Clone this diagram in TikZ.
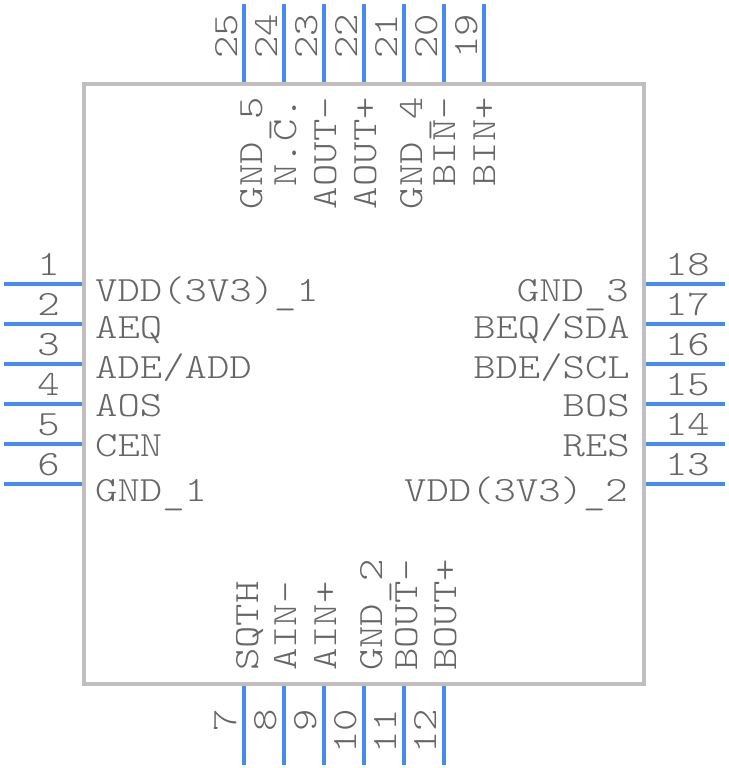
\documentclass[tikz,border=0pt]{standalone}
\usepackage{fontspec}
\newfontfamily\pinfont[FakeStretch=1.2]{Latin Modern Mono Light}
\newcommand{\pinbar}{\raisebox{-3.5pt}{\_}}
\definecolor{pinblue}{HTML}{468CF0}
\definecolor{bodygray}{HTML}{BFBFBF}
\definecolor{textgray}{HTML}{666666}
\tikzset{
    pin/.style={line width=4pt, color=pinblue},
    pintext/.style={inner sep=0pt, text=textgray, font=\pinfont\fontsize{35.5pt}{36pt}\selectfont},
    lefttext/.style={pintext, anchor=base west},
    righttext/.style={pintext, anchor=base east},
    uptext/.style={pintext, rotate=90, anchor=base west},
    downtext/.style={pintext, rotate=90, anchor=base east},
}
\begin{document}
\begin{tikzpicture}
                \useasboundingbox (0pt, 0pt) rectangle (728pt, -768pt);
                \node (body) [rectangle, minimum width=560pt, minimum height=600pt, inner sep=0pt, line width=4pt, draw=bodygray] at (364pt, -384pt) {};
                % left side
                \coordinate (a1) at (4pt, -284pt); \coordinate (b1) at (82pt, -284pt);
                \coordinate (a2) at (4pt, -324pt); \coordinate (b2) at (82pt, -324pt);
                \coordinate (a3) at (4pt, -364pt); \coordinate (b3) at (82pt, -364pt);
                \coordinate (a4) at (4pt, -404pt); \coordinate (b4) at (82pt, -404pt);
                \coordinate (a5) at (4pt, -444pt); \coordinate (b5) at (82pt, -444pt);
                \coordinate (a6) at (4pt, -484pt); \coordinate (b6) at (82pt, -484pt);
                \draw [pin] (a1) to (b1);
                \draw [pin] (a2) to (b2);
                \draw [pin] (a3) to (b3);
                \draw [pin] (a4) to (b4);
                \draw [pin] (a5) to (b5);
                \draw [pin] (a6) to (b6);
                \node (n1) [righttext] at (60pt, -275pt) {1};
                \node (n2) [righttext] at (60pt, -315pt) {2};
                \node (n3) [righttext] at (60pt, -355pt) {3};
                \node (n4) [righttext] at (60pt, -395pt) {4};
                \node (n5) [righttext] at (60pt, -435pt) {5};
                \node (n6) [righttext] at (60pt, -475pt) {6};
                \node (l1) [lefttext] at (95pt, -301pt) {VDD(3V3)\pinbar 1};
                \node (l2) [lefttext] at (95pt, -338pt) {AEQ};
                \node (l3) [lefttext] at (95pt, -378pt) {ADE/ADD};
                \node (l4) [lefttext] at (95pt, -416pt) {AOS};
                \node (l5) [lefttext] at (95pt, -456pt) {CEN};
                \node (l6) [lefttext] at (95pt, -501pt) {GND\pinbar 1};
                % bottom side
                \coordinate (a7) at (244pt, -686pt); \coordinate (b7) at (244pt, -765pt);
                \coordinate (a8) at (284pt, -686pt); \coordinate (b8) at (284pt, -765pt);
                \coordinate (a9) at (324pt, -686pt); \coordinate (b9) at (324pt, -765pt);
                \coordinate (a10) at (364pt, -686pt); \coordinate (b10) at (364pt, -765pt);
                \coordinate (a11) at (404pt, -686pt); \coordinate (b11) at (404pt, -765pt);
                \coordinate (a12) at (444pt, -686pt); \coordinate (b12) at (444pt, -765pt);
                \draw [pin] (a7) to (b7);
                \draw [pin] (a8) to (b8);
                \draw [pin] (a9) to (b9);
                \draw [pin] (a10) to (b10);
                \draw [pin] (a11) to (b11);
                \draw [pin] (a12) to (b12);
                \node (n7) [downtext] at (236pt, -709pt) {7};
                \node (n8) [downtext] at (276pt, -709pt) {8};
                \node (n9) [downtext] at (316pt, -709pt) {9};
                \node (n10) [downtext] at (356pt, -709pt) {10};
                \node (n11) [downtext] at (396pt, -709pt) {11};
                \node (n12) [downtext] at (436pt, -709pt) {12};
                \node (l7) [uptext] at (258pt, -671pt) {SQTH};
                \node (l8) [uptext] at (296pt, -671pt) {AIN-};
                \node (l9) [uptext] at (336pt, -671pt) {AIN+};
                \node (l10) [uptext] at (382pt, -671pt) {GND\pinbar 2};
                \node (l11) [uptext] at (417pt, -671pt) {BOUT-};
                \node (l12) [uptext] at (456pt, -671pt) {BOUT+};
                % right side
                \coordinate (a13) at (646pt, -484pt); \coordinate (b13) at (725pt, -484pt);
                \coordinate (a14) at (646pt, -444pt); \coordinate (b14) at (725pt, -444pt);
                \coordinate (a15) at (646pt, -404pt); \coordinate (b15) at (725pt, -404pt);
                \coordinate (a16) at (646pt, -364pt); \coordinate (b16) at (725pt, -364pt);
                \coordinate (a17) at (646pt, -324pt); \coordinate (b17) at (725pt, -324pt);
                \coordinate (a18) at (646pt, -284pt); \coordinate (b18) at (725pt, -284pt);
                \draw [pin] (a13) to (b13);
                \draw [pin] (a14) to (b14);
                \draw [pin] (a15) to (b15);
                \draw [pin] (a16) to (b16);
                \draw [pin] (a17) to (b17);
                \draw [pin] (a18) to (b18);
                \node (n13) [righttext] at (710pt, -475pt) {13};
                \node (n14) [righttext] at (710pt, -435pt) {14};
                \node (n15) [righttext] at (710pt, -395pt) {15};
                \node (n16) [righttext] at (710pt, -355pt) {16};
                \node (n17) [righttext] at (710pt, -315pt) {17};
                \node (n18) [righttext] at (710pt, -275pt) {18};
                \node (l13) [righttext] at (628pt, -501pt) {VDD(3V3)\pinbar 2};
                \node (l14) [righttext] at (630pt, -456pt) {RES};
                \node (l15) [righttext] at (630pt, -416pt) {BOS};
                \node (l16) [righttext] at (630pt, -378pt) {BDE/SCL};
                \node (l17) [righttext] at (630pt, -338pt) {BEQ/SDA};
                \node (l18) [righttext] at (629pt, -301pt) {GND\pinbar 3};
                % top side
                \coordinate (a19) at (484pt, -82pt); \coordinate (b19) at (484pt, -4pt);
                \coordinate (a20) at (444pt, -82pt); \coordinate (b20) at (444pt, -4pt);
                \coordinate (a21) at (404pt, -82pt); \coordinate (b21) at (404pt, -4pt);
                \coordinate (a22) at (364pt, -82pt); \coordinate (b22) at (364pt, -4pt);
                \coordinate (a23) at (324pt, -82pt); \coordinate (b23) at (324pt, -4pt);
                \coordinate (a24) at (284pt, -82pt); \coordinate (b24) at (284pt, -4pt);
                \coordinate (a25) at (244pt, -82pt); \coordinate (b25) at (244pt, -4pt);
                \draw [pin] (a19) to (b19);
                \draw [pin] (a20) to (b20);
                \draw [pin] (a21) to (b21);
                \draw [pin] (a22) to (b22);
                \draw [pin] (a23) to (b23);
                \draw [pin] (a24) to (b24);
                \draw [pin] (a25) to (b25);
                \node (n19) [uptext] at (477pt, -59pt) {19};
                \node (n20) [uptext] at (437pt, -59pt) {20};
                \node (n21) [uptext] at (397pt, -59pt) {21};
                \node (n22) [uptext] at (357pt, -59pt) {22};
                \node (n23) [uptext] at (317pt, -59pt) {23};
                \node (n24) [uptext] at (277pt, -59pt) {24};
                \node (n25) [uptext] at (237pt, -59pt) {25};
                \node (l19) [downtext] at (495pt, -97pt) {BIN+};
                \node (l20) [downtext] at (455pt, -97pt) {BIN-};
                \node (l21) [downtext] at (422pt, -97pt) {GND\pinbar 4};
                \node (l22) [downtext] at (376pt, -97pt) {AOUT+};
                \node (l23) [downtext] at (336pt, -97pt) {AOUT-};
                \node (l24) [downtext] at (296pt, -97pt) {N.C.};
                \node (l25) [downtext] at (262pt, -97pt) {GND\pinbar 5};
\end{tikzpicture}
\end{document}
